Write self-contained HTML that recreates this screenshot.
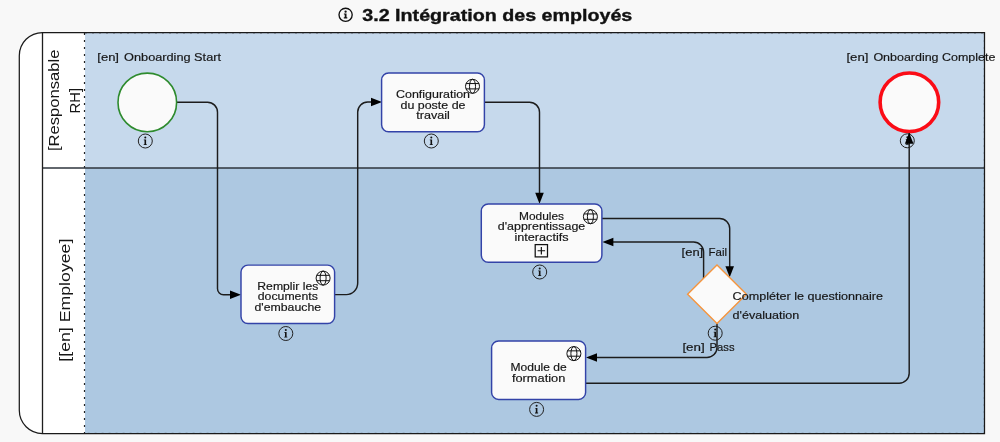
<!DOCTYPE html>
<html><head><meta charset="utf-8">
<style>
html,body{margin:0;padding:0;background:#f8f8f8;width:1000px;height:442px;overflow:hidden}
svg{display:block;will-change:transform}
text{font-family:"Liberation Sans",sans-serif}
g.t text{stroke:#161616;stroke-width:0.18}
</style></head>
<body>
<svg width="1000" height="442" viewBox="0 0 1000 442">
<defs>
  <g id="info">
    <circle cx="0" cy="0" r="7" fill="none" stroke="#222" stroke-width="1"/>
    <circle cx="0" cy="-3.6" r="1" fill="#111"/>
    <path d="M-1.5 -1.5 H0.8 V3.2 H1.5 V4 H-1.6 V3.2 H-0.8 V-0.8 H-1.5 Z" fill="#111"/>
  </g>
  <g id="globe" fill="none" stroke="#111" stroke-width="1">
    <circle cx="0" cy="0" r="7"/>
    <ellipse cx="0" cy="0" rx="3" ry="7"/>
    <path d="M-6.5 -2.75 H6.5 M-6.5 2.6 H6.5"/>
  </g>
</defs>

<!-- title -->
<g transform="translate(345.6 14.8)">
  <circle cx="0" cy="0" r="6.6" fill="none" stroke="#111" stroke-width="1.35"/>
  <circle cx="0" cy="-3.1" r="1.15" fill="#111"/>
  <path d="M-1.7 -1.3 H0.9 V2.5 H1.7 V3.6 H-1.8 V2.5 H-0.9 V-0.3 H-1.7 Z" fill="#111"/>
</g>
<text x="362.3" y="21" font-size="16" font-weight="bold" fill="#111" stroke="#111" stroke-width="0.35" textLength="270" lengthAdjust="spacingAndGlyphs">3.2 Intégration des employés</text>

<!-- pool -->
<path d="M42.5 32.5 H984.5 V433.5 H42.5 Z" fill="#fff"/>
<path d="M42.5 32.5 A23.2 23.2 0 0 0 19.3 55.7 V410.3 A23.2 23.2 0 0 0 42.5 433.5 Z" fill="#fff"/>
<rect x="85" y="32.5" width="899.5" height="135.5" fill="#c6d9ec"/>
<rect x="85" y="168" width="899.5" height="265.5" fill="#adc8e1"/>
<line x1="84.5" y1="33" x2="84.5" y2="434" stroke="#222" stroke-width="1.2" stroke-dasharray="2 5"/>
<path d="M85 32.9 H984" stroke="#222" stroke-width="1" stroke-dasharray="2 5" opacity="0.6"/>
<path d="M984.3 33 V433.3 H85" fill="none" stroke="#222" stroke-width="1" stroke-dasharray="2 5" opacity="0.5"/>
<path d="M42.5 168 H984.5" stroke="#2e353c" stroke-width="1.5"/>
<path d="M42.5 32.5 V433.5" stroke="#1e1e1e" stroke-width="1.3"/>
<path d="M42.5 32.5 H984.5 V433.5 H42.5 M42.5 32.5 A23.2 23.2 0 0 0 19.3 55.7 V410.3 A23.2 23.2 0 0 0 42.5 433.5" fill="none" stroke="#1a1a1a" stroke-width="1.25"/>

<!-- lane labels -->
<g fill="#161616" font-size="15">
  <text transform="translate(59 100.3) rotate(-90)" text-anchor="middle" textLength="101.6" lengthAdjust="spacingAndGlyphs">[Responsable</text>
  <text transform="translate(80 100.6) rotate(-90)" text-anchor="middle" textLength="25.6" lengthAdjust="spacingAndGlyphs">RH]</text>
  <text transform="translate(69.6 300.15) rotate(-90)" text-anchor="middle" textLength="123" lengthAdjust="spacingAndGlyphs">[[en] Employee]</text>
</g>

<!-- flows -->
<g fill="none" stroke="#1c1c1c" stroke-width="1.45">
  <path d="M176.5 102.2 H207.5 A10 10 0 0 1 217.5 112.2 V288.8 A6 6 0 0 0 223.5 294.8 H231"/>
  <path d="M334.6 294.6 H346.2 A11.5 11.5 0 0 0 357.7 283.1 V112 A10 10 0 0 1 367.7 102 H372"/>
  <path d="M484.4 102.2 H529.5 A10 10 0 0 1 539.5 112.2 V194"/>
  <path d="M601.9 218.5 H719.7 A10 10 0 0 1 729.7 228.5 V268"/>
  <path d="M703.6 279.5 V252 A10 10 0 0 0 693.6 242 H612"/>
  <path d="M717 323.3 V347.5 A10 10 0 0 1 707 357.5 H596"/>
  <path d="M585.6 383.2 H899.2 A10 10 0 0 0 909.2 373.2 V143"/>
</g>
<g fill="#000">
  <path d="M241 294.8 L230 290.5 L230 299.1 Z"/>
  <path d="M382 102 L371 97.7 L371 106.3 Z"/>
  <path d="M539.5 203.8 L535.2 192.8 L543.8 192.8 Z"/>
  <path d="M729.7 277.2 L725.4 266.2 L734 266.2 Z"/>
  <path d="M602.4 242 L613.4 237.7 L613.4 246.3 Z"/>
  <path d="M586 357.5 L597 353.2 L597 361.8 Z"/>
</g>

<!-- start event -->
<circle cx="147.3" cy="102.4" r="29.3" fill="#fafafa" stroke="#2e8b2e" stroke-width="1.6"/>
<use href="#info" x="145.3" y="141"/>
<g class="t" font-size="11.2" fill="#161616"><text x="97.3" y="60.8" textLength="21.7" lengthAdjust="spacingAndGlyphs">[en]</text><text x="124.1" y="60.8" textLength="96.9" lengthAdjust="spacingAndGlyphs">Onboarding Start</text></g>

<!-- end event -->
<circle cx="909.4" cy="102.3" r="29.3" fill="#fafafa" stroke="#fb0c16" stroke-width="3.6"/>
<use href="#info" x="907.3" y="140.8"/>
<path d="M909.2 143 V133" stroke="#1c1c1c" stroke-width="1.5"/>
<path d="M909.2 132.7 L904.9 143.7 L913.5 143.7 Z" fill="#000"/>
<g class="t" font-size="11.2" fill="#161616"><text x="846.4" y="60.7" textLength="22" lengthAdjust="spacingAndGlyphs">[en]</text><text x="873.4" y="60.7" textLength="122" lengthAdjust="spacingAndGlyphs">Onboarding Complete</text></g>

<!-- task: Configuration -->
<rect x="381.6" y="73" width="102.8" height="58.7" rx="7" fill="#fafafa" stroke="#3343a8" stroke-width="1.45"/>
<use href="#globe" x="472.5" y="86.3"/>
<g class="t" font-size="11.2" fill="#161616" text-anchor="middle">
  <text x="433" y="97.8" textLength="74" lengthAdjust="spacingAndGlyphs">Configuration</text>
  <text x="433" y="108.7" textLength="65" lengthAdjust="spacingAndGlyphs">du poste de</text>
  <text x="433" y="118.8" textLength="33.6" lengthAdjust="spacingAndGlyphs">travail</text>
</g>
<use href="#info" x="431.3" y="141"/>

<!-- task: Modules -->
<rect x="481.3" y="203.9" width="120.6" height="58.4" rx="7" fill="#fafafa" stroke="#3343a8" stroke-width="1.45"/>
<use href="#globe" x="590.4" y="216.7"/>
<g class="t" font-size="11.2" fill="#161616" text-anchor="middle">
  <text x="541.5" y="219.8" textLength="45" lengthAdjust="spacingAndGlyphs">Modules</text>
  <text x="541.5" y="230.1" textLength="87.5" lengthAdjust="spacingAndGlyphs">d'apprentissage</text>
  <text x="541.5" y="240.5" textLength="54.2" lengthAdjust="spacingAndGlyphs">interactifs</text>
</g>
<rect x="535.2" y="244.6" width="12.3" height="12.3" fill="none" stroke="#111" stroke-width="1.25"/>
<path d="M541.35 247 V254.5 M537.6 250.75 H545.1" stroke="#111" stroke-width="1.2"/>
<use href="#info" x="539.7" y="272"/>

<!-- task: Remplir -->
<rect x="241" y="265.1" width="93.6" height="58.4" rx="7" fill="#fafafa" stroke="#3343a8" stroke-width="1.45"/>
<use href="#globe" x="323.1" y="278.1"/>
<g class="t" font-size="11.2" fill="#161616" text-anchor="middle">
  <text x="287.8" y="290.1" textLength="61" lengthAdjust="spacingAndGlyphs">Remplir les</text>
  <text x="287.8" y="300.2" textLength="60" lengthAdjust="spacingAndGlyphs">documents</text>
  <text x="287.8" y="311" textLength="66.7" lengthAdjust="spacingAndGlyphs">d'embauche</text>
</g>
<use href="#info" x="285.8" y="333.5"/>

<!-- task: Module de formation -->
<rect x="491.6" y="341" width="94" height="58.4" rx="7" fill="#fafafa" stroke="#3343a8" stroke-width="1.45"/>
<use href="#globe" x="573.9" y="353.6"/>
<g class="t" font-size="11.2" fill="#161616" text-anchor="middle">
  <text x="538.6" y="371" textLength="56.3" lengthAdjust="spacingAndGlyphs">Module de</text>
  <text x="538.6" y="381.6" textLength="53.4" lengthAdjust="spacingAndGlyphs">formation</text>
</g>
<use href="#info" x="536.6" y="409.4"/>

<!-- gateway -->
<path d="M717 265.1 L746.4 294.3 L717 323.4 L687.6 294.3 Z" fill="#fafafa" stroke="#f6953e" stroke-width="1.4"/>
<use href="#info" x="715.2" y="333.2"/>
<g class="t" font-size="11.2" fill="#161616">
  <text x="732.6" y="300.2" textLength="150.4" lengthAdjust="spacingAndGlyphs">Compléter le questionnaire</text>
  <text x="732.6" y="318.7" textLength="66.6" lengthAdjust="spacingAndGlyphs">d'évaluation</text>
</g>
<g class="t" font-size="11.2" fill="#161616">
  <text x="681.6" y="256" textLength="21.6" lengthAdjust="spacingAndGlyphs">[en]</text>
  <text x="708.5" y="256" textLength="18.5" lengthAdjust="spacingAndGlyphs">Fail</text>
  <text x="682.4" y="351.1" textLength="22.3" lengthAdjust="spacingAndGlyphs">[en]</text>
  <text x="709.6" y="351.1" textLength="24.9" lengthAdjust="spacingAndGlyphs">Pass</text>
</g>
</svg>
</body></html>
